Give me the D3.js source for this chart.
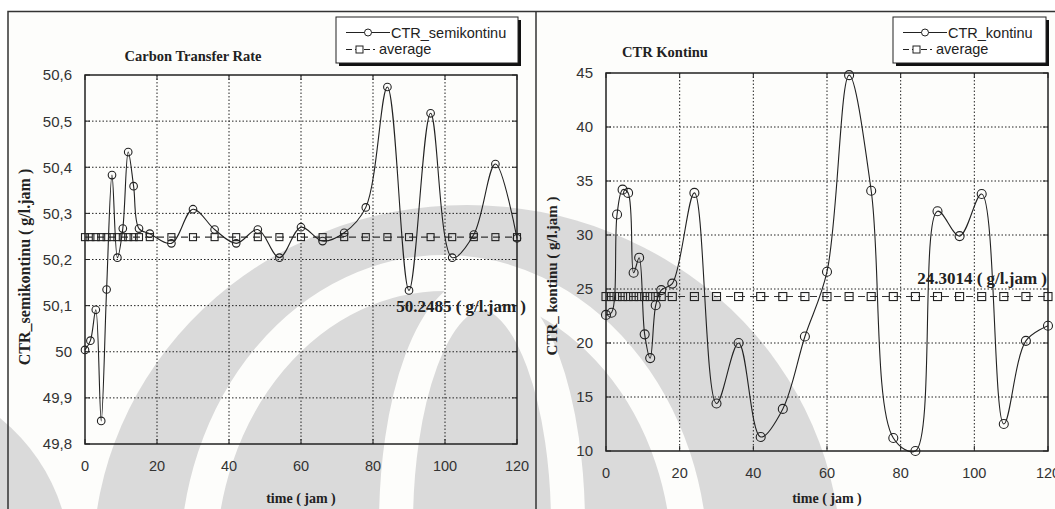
<!DOCTYPE html>
<html>
<head>
<meta charset="utf-8">
<script src="https://cdn.jsdelivr.net/npm/d3@7"></script>
<style>
  body { margin: 0; background: #fff; }
  .tick-label { font-family: "Liberation Sans", Arial, sans-serif; fill: #333; }
  .serif-bold { font-family: "Liberation Serif", "Times New Roman", serif; font-weight: bold; fill: #222; }
  .grid { stroke: #222; stroke-width: 1; stroke-dasharray: 1.5,2; }
  .legend-text { font-family: "Liberation Sans", Arial, sans-serif; font-size: 14.5px; fill: #222; }
</style>
</head>
<body>
<svg id="chart"></svg>
<script>
(function() {
  'use strict';

  // sampling times (jam), shared by both runs
  const timeJam = [0, 1.5, 3, 4.5, 6, 7.5, 9, 10.5, 12, 13.5, 15, 18,
    24, 30, 36, 42, 48, 54, 60, 66, 72, 78, 84, 90, 96, 102, 108, 114, 120];

  const ctrSemikontinu = [50.004, 50.024, 50.091, 49.85, 50.135, 50.383, 50.204, 50.267,
    50.433, 50.359, 50.267, 50.256, 50.235, 50.309, 50.265, 50.235, 50.265, 50.204,
    50.27, 50.24, 50.258, 50.313, 50.574, 50.133, 50.517, 50.204, 50.254, 50.407, 50.246];

  const ctrKontinu = [22.6, 22.8, 31.9, 34.2, 33.9, 26.5, 27.9, 20.8, 18.6, 23.5, 24.9, 25.5,
    33.9, 14.4, 20.0, 11.3, 13.9, 20.6, 26.6, 44.8, 34.1, 11.2, 10.0, 32.2, 29.9, 33.8,
    12.5, 20.2, 21.6];

  const avgSemikontinu = 50.2485;
  const avgKontinu = 24.3014;

  const xTicks = [0, 20, 40, 60, 80, 100, 120];
  const yTicksSemi = [49.8, 49.9, 50.0, 50.1, 50.2, 50.3, 50.4, 50.5, 50.6];
  const yTicksKontinu = [10, 15, 20, 25, 30, 35, 40, 45];

  const W = 1055, H = 509;
  const paper = '#fdfdfb';

  const svg = d3.select('#chart')
    .attr('width', W)
    .attr('height', H);

  // page background
  svg.append('rect').attr('width', W).attr('height', H).attr('fill', '#fff');
  svg.append('rect').attr('x', 8).attr('y', 11).attr('width', W).attr('height', H)
    .attr('fill', paper);

  // faint watermark behind the plots
  const wm = svg.append('g');
  wm.append('path')
    .attr('d', 'M0,418 Q45,455 62,509 L0,509 Z')
    .attr('fill', '#dadada');
  wm.append('ellipse').attr('cx', 467).attr('cy', 562).attr('rx', 374).attr('ry', 357)
    .attr('fill', '#dadada');
  wm.append('ellipse').attr('cx', 444).attr('cy', 565).attr('rx', 246).attr('ry', 292)
    .attr('fill', 'none').attr('stroke', paper).attr('stroke-width', 36);
  wm.append('ellipse').attr('cx', 482).attr('cy', 525).attr('rx', 86).attr('ry', 232)
    .attr('fill', 'none').attr('stroke', paper).attr('stroke-width', 34);

  svg.append('path')
    .attr('d', `M8,${H} V11.5 H${W}`)
    .attr('fill', 'none').attr('stroke', '#333').attr('stroke-width', 1.5);
  svg.append('line')
    .attr('x1', 536).attr('y1', 11).attr('x2', 536).attr('y2', H)
    .attr('stroke', '#333').attr('stroke-width', 1.5);

  const commaFmt = d => {
    const s = d3.format('.1f')(d).replace('.', ',');
    return s.endsWith(',0') ? s.slice(0, -2) : s;
  };

  const drawPanel = cfg => {
    const x = d3.scaleLinear().domain([0, 120]).range([cfg.left, cfg.right]);
    const y = d3.scaleLinear().domain(cfg.yDomain).range([cfg.bottom, cfg.top]);
    const g = svg.append('g');

    // grid
    g.selectAll('.vgrid')
      .data(xTicks.slice(1, -1))
      .enter().append('line')
      .attr('class', 'grid')
      .attr('x1', d => x(d)).attr('x2', d => x(d))
      .attr('y1', cfg.top).attr('y2', cfg.bottom);

    g.selectAll('.hgrid')
      .data(cfg.yTicks.slice(1, -1))
      .enter().append('line')
      .attr('class', 'grid')
      .attr('x1', cfg.left).attr('x2', cfg.right)
      .attr('y1', d => y(d)).attr('y2', d => y(d));

    // inward ticks
    g.selectAll('.xt')
      .data(xTicks)
      .enter().append('path')
      .attr('d', d => `M${x(d)},${cfg.bottom}v-5M${x(d)},${cfg.top}v5`)
      .attr('stroke', '#222');
    g.selectAll('.yt')
      .data(cfg.yTicks)
      .enter().append('path')
      .attr('d', d => `M${cfg.left},${y(d)}h5M${cfg.right},${y(d)}h-5`)
      .attr('stroke', '#222');

    // frame
    g.append('rect')
      .attr('x', cfg.left).attr('y', cfg.top)
      .attr('width', cfg.right - cfg.left).attr('height', cfg.bottom - cfg.top)
      .attr('fill', 'none').attr('stroke', '#222').attr('stroke-width', 1.5);

    // tick labels
    g.selectAll('.xl')
      .data(xTicks)
      .enter().append('text')
      .attr('class', 'tick-label')
      .attr('font-size', 14.5)
      .attr('text-anchor', 'middle')
      .attr('x', d => x(d))
      .attr('y', cfg.bottom + 27)
      .text(d => d);

    g.selectAll('.yl')
      .data(cfg.yTicks)
      .enter().append('text')
      .attr('class', 'tick-label')
      .attr('font-size', 15)
      .attr('text-anchor', 'end')
      .attr('x', cfg.left - 13)
      .attr('y', d => y(d))
      .attr('dy', '0.36em')
      .text(cfg.yFormat);

    // average series
    const avgPts = timeJam.map(t => ({t: t, v: cfg.avg}));
    g.append('path')
      .datum(avgPts)
      .attr('d', d3.line().x(d => x(d.t)).y(d => y(d.v)))
      .attr('fill', 'none').attr('stroke', '#333').attr('stroke-width', 1.1)
      .attr('stroke-dasharray', '7,5');
    g.selectAll('.sq')
      .data(avgPts)
      .enter().append('rect')
      .attr('x', d => x(d.t) - cfg.sq / 2).attr('y', d => y(d.v) - cfg.sq / 2)
      .attr('width', cfg.sq).attr('height', cfg.sq)
      .attr('fill', 'none').attr('stroke', '#222').attr('stroke-width', 1.1);

    // measured series
    const pts = timeJam.map((t, i) => ({t: t, v: cfg.values[i]}));
    g.append('path')
      .datum(pts)
      .attr('d', d3.line().curve(d3.curveCatmullRom.alpha(0.5)).x(d => x(d.t)).y(d => y(d.v)))
      .attr('fill', 'none').attr('stroke', '#222').attr('stroke-width', 1.1);
    g.selectAll('.pt')
      .data(pts)
      .enter().append('circle')
      .attr('cx', d => x(d.t)).attr('cy', d => y(d.v))
      .attr('r', cfg.r)
      .attr('fill', 'none').attr('stroke', '#222').attr('stroke-width', 1.1);

    // titles
    g.append('text')
      .attr('class', 'serif-bold')
      .attr('font-size', 14.5)
      .attr('text-anchor', 'middle')
      .attr('x', cfg.titleX).attr('y', cfg.titleY)
      .text(cfg.title);

    g.append('text')
      .attr('class', 'serif-bold')
      .attr('font-size', 14)
      .attr('text-anchor', 'middle')
      .attr('x', (cfg.left + cfg.right) / 2).attr('y', 503)
      .text('time ( jam )');

    g.append('text')
      .attr('class', 'serif-bold')
      .attr('font-size', cfg.yTitleSize)
      .attr('text-anchor', 'middle')
      .attr('transform', `translate(${cfg.yTitleX},${cfg.yTitleY}) rotate(-90)`)
      .text(cfg.yTitle);

    g.append('text')
      .attr('class', 'serif-bold')
      .attr('font-size', 17)
      .attr('text-anchor', 'end')
      .attr('x', cfg.noteX).attr('y', y(cfg.noteAt) + 6)
      .text(cfg.note);

    // legend
    const lg = g.append('g');
    lg.append('rect')
      .attr('x', cfg.legX + 3).attr('y', 20)
      .attr('width', cfg.legW).attr('height', 46)
      .attr('fill', '#111');
    lg.append('rect')
      .attr('x', cfg.legX).attr('y', 17)
      .attr('width', cfg.legW).attr('height', 46)
      .attr('fill', '#fff').attr('stroke', '#222');
    const lx = cfg.legX + 10;
    lg.append('line').attr('x1', lx).attr('x2', lx + 44).attr('y1', 32.5).attr('y2', 32.5)
      .attr('stroke', '#222');
    lg.append('circle').attr('cx', lx + 22).attr('cy', 32.5).attr('r', 3.5)
      .attr('fill', '#fff').attr('stroke', '#222');
    lg.append('line').attr('x1', lx).attr('x2', lx + 29).attr('y1', 49.5).attr('y2', 49.5)
      .attr('stroke', '#222').attr('stroke-dasharray', '6,3');
    lg.append('rect').attr('x', lx + 10).attr('y', 46).attr('width', 7).attr('height', 7)
      .attr('fill', '#fff').attr('stroke', '#222');
    lg.append('text').attr('class', 'legend-text')
      .attr('x', lx + 45).attr('y', 37.5).text(cfg.legLabel);
    lg.append('text').attr('class', 'legend-text')
      .attr('x', lx + 33).attr('y', 54).text('average');
  };

  drawPanel({
    left: 85, right: 517, top: 75, bottom: 444,
    yDomain: [49.8, 50.6], yTicks: yTicksSemi, yFormat: commaFmt,
    values: ctrSemikontinu, avg: avgSemikontinu, r: 3.8, sq: 7,
    title: 'Carbon Transfer Rate', titleX: 193, titleY: 61,
    yTitle: 'CTR_semikontinu ( g/l.jam )', yTitleX: 30, yTitleY: 267, yTitleSize: 16,
    note: '50.2485 ( g/l.jam )', noteX: 526, noteAt: 50.1,
    legX: 336, legW: 182, legLabel: 'CTR_semikontinu'
  });

  drawPanel({
    left: 606, right: 1048, top: 73, bottom: 451,
    yDomain: [10, 45], yTicks: yTicksKontinu, yFormat: d => d,
    values: ctrKontinu, avg: avgKontinu, r: 4.5, sq: 8,
    title: 'CTR Kontinu', titleX: 665, titleY: 57,
    yTitle: 'CTR_ kontinu ( g/l.jam )', yTitleX: 557, yTitleY: 276, yTitleSize: 15,
    note: '24.3014 ( g/l.jam )', noteX: 1047, noteAt: 26,
    legX: 893, legW: 153, legLabel: 'CTR_kontinu'
  });
})();
</script>
</body>
</html>
